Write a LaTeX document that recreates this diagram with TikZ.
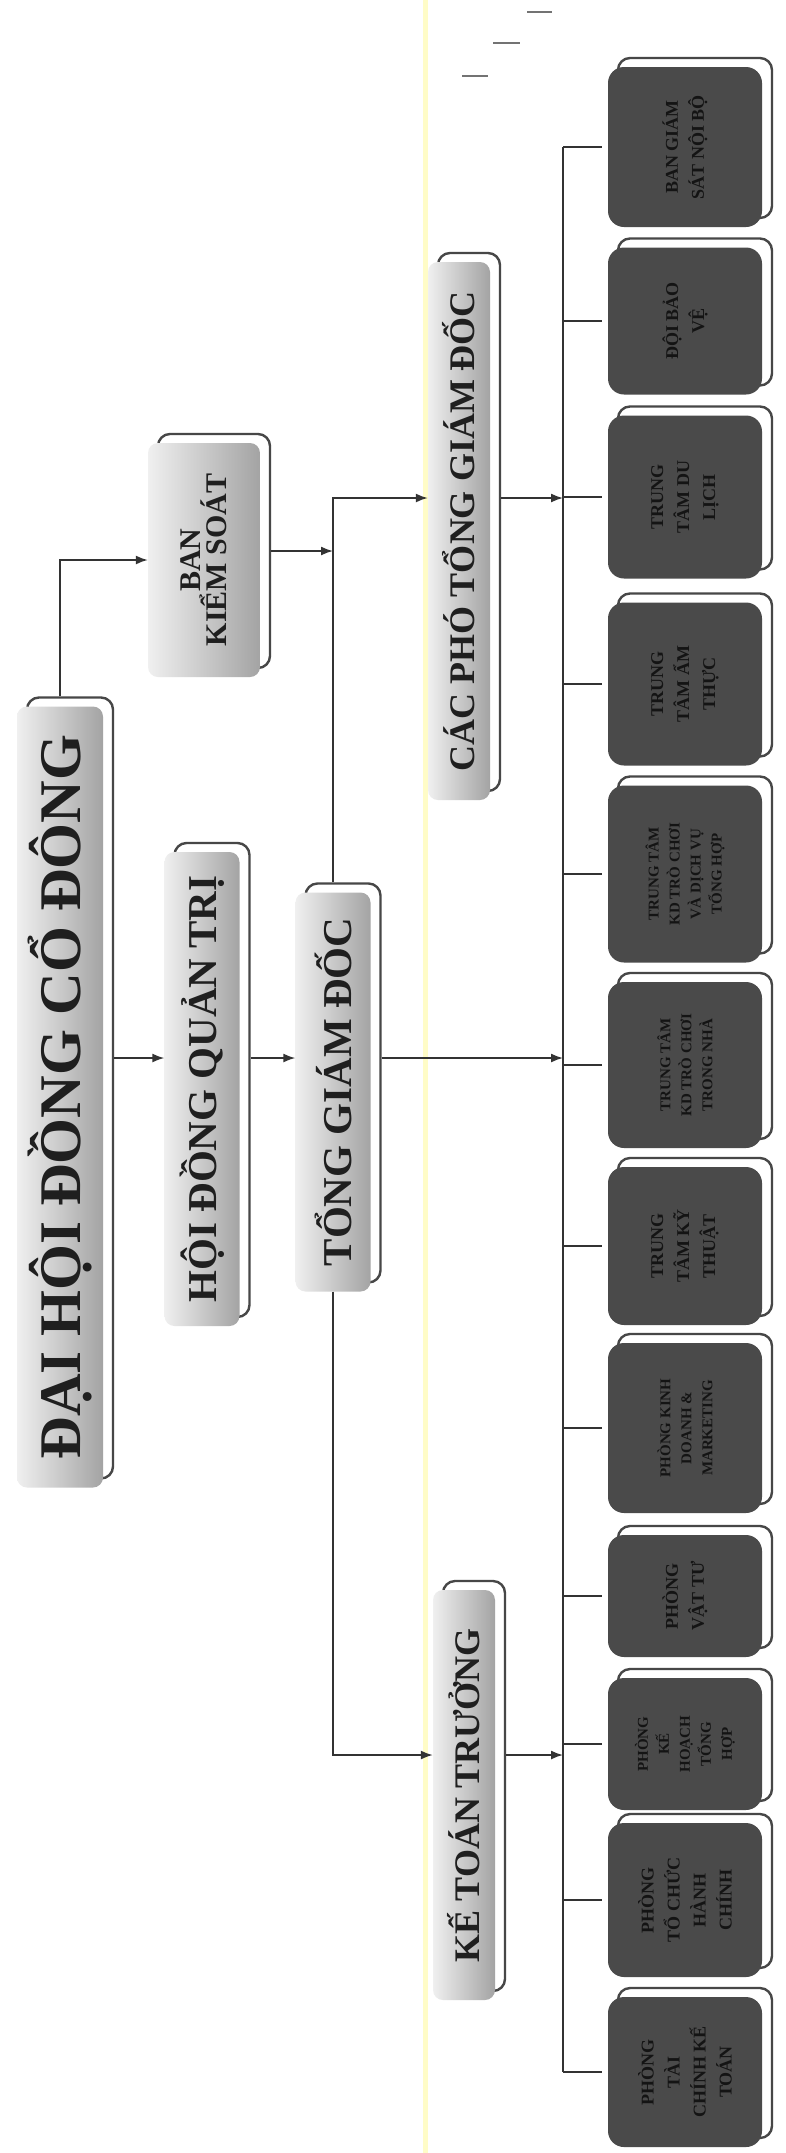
\documentclass[tikz,border=0pt]{standalone}
\usepackage{fontspec}
\setmainfont{Liberation Serif}
\usetikzlibrary{arrows.meta,calc}
\tikzset{
  framebox/.style={rounded corners=12pt, fill=white, draw=black!72, line width=2.4pt, rotate=90, inner sep=0pt},
  topbox/.style={rounded corners=10pt, left color=gray!12, right color=gray!72, draw=none, rotate=90, inner sep=0pt, text=black!88, align=center},
  lowbox/.style={rounded corners=16pt, fill=black!71, draw=none, rotate=90, inner sep=0pt, text=black!92, align=center, font=\fontsize{18}{26}\selectfont\bfseries},
  lowsmall/.style={lowbox, font=\fontsize{15}{21}\selectfont\bfseries},
  arr/.style={line width=1.6pt, draw=black!80, -{Latex[length=12pt,width=9pt]}},
  ln/.style={line width=1.6pt, draw=black!80},
  speck/.style={line width=1.8pt, draw=black!55},
}
\newcommand\orgbox[7]{%
  \node[framebox, minimum width=#5pt, minimum height=#4pt] (#1f) at (#2+10,#3-9) {};
  \node[#6, minimum width=#5pt, minimum height=#4pt] (#1) at (#2,#3) {#7};
}
\begin{document}
\begin{tikzpicture}[x=1pt,y=-1pt]
\useasboundingbox (0,0) rectangle (786,2153);
\fill[white] (0,0) rectangle (786,2153);
% faint yellow crease
\draw[yellow!22, line width=5pt] (425,0) -- (425,2153);
% small marks at top
\draw[speck] (527,12) -- (552,12);
\draw[speck] (493,43) -- (520,43);
\draw[speck] (462,76) -- (488,76);

% upper levels
\orgbox{dh}{60}{1097}{86}{781}{topbox}{\fontsize{59}{64}\selectfont\bfseries ĐẠI HỘI ĐỒNG CỔ ĐÔNG}
\orgbox{hd}{202}{1089}{75}{474}{topbox}{\fontsize{41}{46}\selectfont\bfseries HỘI ĐỒNG QUẢN TRỊ}
\orgbox{bks}{204}{560}{112}{234}{topbox}{\fontsize{30}{36}\selectfont\bfseries BAN\\[-2pt]\fontsize{30}{36}\selectfont\bfseries KIỂM SOÁT}
\orgbox{tgd}{333}{1092}{75}{399}{topbox}{\fontsize{41}{46}\selectfont\bfseries TỔNG GIÁM ĐỐC}
\orgbox{cp}{459}{531}{62}{538}{topbox}{\fontsize{36}{40}\selectfont\bfseries CÁC PHÓ TỔNG GIÁM ĐỐC}
\orgbox{kt}{464}{1795}{62}{410}{topbox}{\fontsize{36}{40}\selectfont\bfseries KẾ TOÁN TRƯỞNG}

% departments
\orgbox{b1}{685}{147}{154}{160}{lowbox}{BAN GIÁM\\SÁT NỘI BỘ}
\orgbox{b2}{685}{321}{154}{147}{lowbox}{ĐỘI BẢO\\VỆ}
\orgbox{b3}{685}{497}{154}{163}{lowbox}{TRUNG\\TÂM DU\\LỊCH}
\orgbox{b4}{685}{684}{154}{163}{lowbox}{TRUNG\\TÂM ẨM\\THỰC}
\orgbox{b5}{685}{874}{154}{177}{lowsmall}{TRUNG TÂM\\KD TRÒ CHƠI\\VÀ DỊCH VỤ\\TỔNG HỢP}
\orgbox{b6}{685}{1065}{154}{166}{lowsmall}{TRUNG TÂM\\KD TRÒ CHƠI\\TRONG NHÀ}
\orgbox{b7}{685}{1246}{154}{158}{lowbox}{TRUNG\\TÂM KỸ\\THUẬT}
\orgbox{b8}{685}{1428}{154}{170}{lowsmall}{PHÒNG KINH\\DOANH \&\\MARKETING}
\orgbox{b9}{685}{1596}{154}{122}{lowbox}{PHÒNG\\VẬT TƯ}
\orgbox{b10}{685}{1744}{154}{132}{lowsmall}{PHÒNG\\KẾ\\HOẠCH\\TỔNG\\HỢP}
\orgbox{b11}{685}{1900}{154}{154}{lowbox}{PHÒNG\\TỔ CHỨC\\HÀNH\\CHÍNH}
\orgbox{b12}{685}{2072}{154}{150}{lowbox}{PHÒNG\\TÀI\\CHÍNH KẾ\\TOÁN}

% helper coordinates
\coordinate (ya) at (0,1058);
\coordinate (yc) at (0,498);
\coordinate (yk) at (0,1755);
\coordinate (busx) at (563,0);

% connectors
\draw[arr] (dh |- dhf.east) |- (bks.north);
\draw[arr] (dhf.south |- ya) -- (hd.north |- ya);
\draw[arr] (hdf.south |- ya) -- (tgd.north |- ya);
\draw[arr] (tgdf.south |- ya) -- (busx |- ya);
\draw[arr] (tgd |- tgdf.east) |- (cp.north |- yc);
\draw[arr] (bksf.south) -- (tgd |- bksf.south);
\draw[arr] (tgd.west) |- (kt.north |- yk);
\draw[arr] (cpf.south |- yc) -- (busx |- yc);
\draw[arr] (ktf.south |- yk) -- (busx |- yk);
% bus
\draw[ln] (busx |- b1) -- (busx |- b12);
\foreach \b in {b1,b2,b3,b4,b5,b6,b7,b8,b9,b10,b11,b12}
  \draw[ln, shorten >=6pt] (busx |- \b) -- (\b.north);
\end{tikzpicture}
\end{document}
